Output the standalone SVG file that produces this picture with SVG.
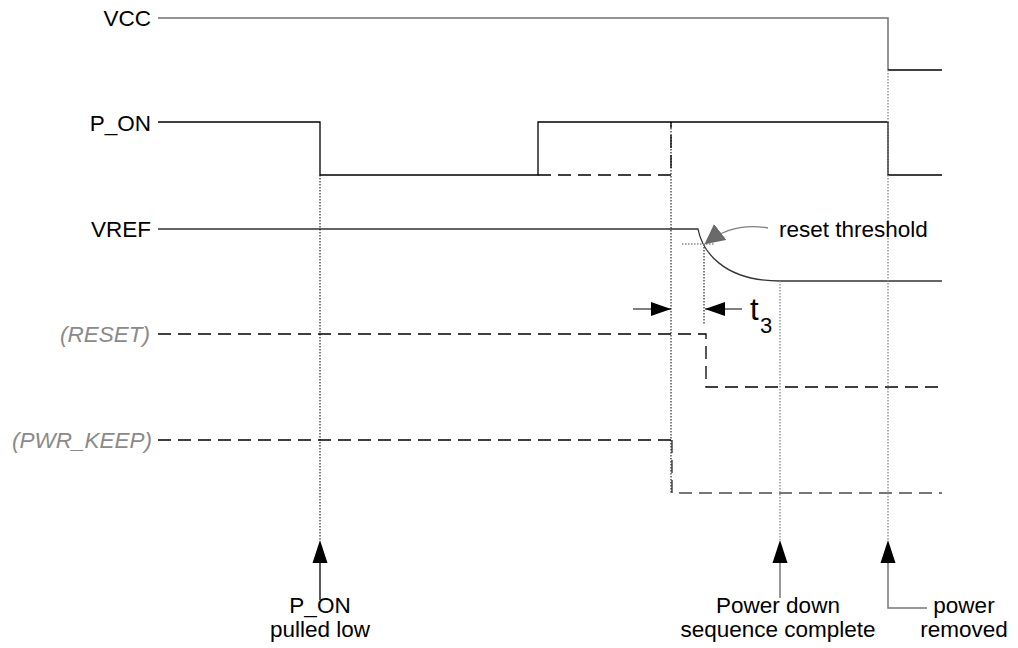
<svg xmlns="http://www.w3.org/2000/svg" width="1018" height="648" viewBox="0 0 1018 648">
<style>
text{font-family:"Liberation Sans",Arial,sans-serif;font-size:22.5px;fill:#000}
.lbl{text-anchor:end}
.opt{font-style:italic;fill:#8a8a8a}
.mid{text-anchor:middle}
.sig{fill:none;stroke:#000;stroke-width:1.3}
.gsig{fill:none;stroke:#707070;stroke-width:1.5}
.dash{fill:none;stroke:#000;stroke-width:1.3;stroke-dasharray:13 7}
.gdash{fill:none;stroke:#777;stroke-width:2;stroke-dasharray:13 7}
.dot{fill:none;stroke:#000;stroke-width:1;stroke-dasharray:1.5 1.5}
.gdot{fill:none;stroke:#888;stroke-width:1.3;stroke-dasharray:1.5 1.5}
</style>
<defs>
<marker id="ah" viewBox="0 0 20 14" refX="20" refY="7" markerWidth="20" markerHeight="14" markerUnits="userSpaceOnUse" orient="auto"><path d="M0,0L20,7L0,14z" fill="#000"/></marker>
<marker id="gah" viewBox="0 0 10 10" refX="9" refY="5" markerWidth="20" markerHeight="20" markerUnits="userSpaceOnUse" orient="auto"><path d="M0,0L10,5L0,10z" fill="#6a6a6a"/></marker>
</defs>
<g id="labels">
<text class="lbl" x="151" y="26">VCC</text>
<text class="lbl" x="151" y="131">P_ON</text>
<text class="lbl" x="151" y="237">VREF</text>
<text class="lbl opt" x="150" y="342">(RESET)</text>
<text class="lbl opt" x="152" y="448">(PWR_KEEP)</text>
</g>
<g id="connectors">
<path class="gsig" d="M158,18H888V70"/>
<path class="sig" d="M888,70H942"/>
<path class="sig" d="M158,122H320V175H538V122H888V175H942"/>
<path class="dash" d="M538,175H671V122"/>
<path d="M158,229H698C702,250 722,281 780,281H942" fill="none" stroke="#333" stroke-width="1.3"/>
<path class="dash" d="M158,334H706V387H942"/>
<path class="dash" d="M158,440H672"/>
<path class="gdash" d="M672,440V493H942"/>
<path class="dot" d="M320,175V540"/>
<path class="dot" d="M671,122V493"/>
<path class="dot" d="M704,244V325"/>
<path class="gdot" d="M682,244H714"/>
<path class="gdot" d="M780,281V540"/>
<path class="gdot" d="M888,70V540"/>
<path d="M768,228Q733,222 706,243" fill="none" stroke="#808080" stroke-width="1.3" marker-end="url(#gah)"/>
<path class="sig" d="M633,309H671" marker-end="url(#ah)" style="stroke-width:1.2"/>
<path class="sig" d="M742,309H705" marker-end="url(#ah)" style="stroke-width:1.2"/>
<path d="M320,600V563" fill="none" stroke="#000" stroke-width="1.3"/>
<path d="M312.5,563L320,540L327.5,563z" fill="#000"/>
<path d="M780,598V563" fill="none" stroke="#777" stroke-width="1.5"/>
<path d="M772.5,563L780,540L787.5,563z" fill="#000"/>
<path d="M927,608H888V563" fill="none" stroke="#777" stroke-width="1.5"/>
<path d="M880.5,563L888,540L895.5,563z" fill="#000"/>
</g>
<g id="annotations">
<text x="779" y="237">reset threshold</text>
<text x="750" y="320" style="font-size:31px">t</text>
<text x="760" y="333" style="font-size:22px">3</text>
<text class="mid" x="320" y="613">P_ON</text>
<text class="mid" x="320" y="637">pulled low</text>
<text class="mid" x="778" y="613">Power down</text>
<text class="mid" x="778" y="637">sequence complete</text>
<text class="mid" x="964" y="613">power</text>
<text class="mid" x="964" y="637">removed</text>
</g>
</svg>
